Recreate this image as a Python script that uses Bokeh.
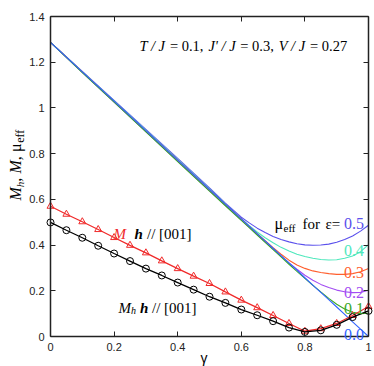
import numpy as np
from bokeh.plotting import figure
from bokeh.models import Range1d, FixedTicker, LinearAxis, Label, ColumnDataSource
from bokeh.embed import file_html
from bokeh.resources import INLINE

# ---------------- data ----------------
gamma_mu = [0, 0.1, 0.2, 0.3, 0.4, 0.5, 0.55, 0.6, 0.625, 0.65, 0.675, 0.7, 0.725,
            0.75, 0.775, 0.8, 0.825, 0.85, 0.875, 0.9, 0.925, 0.95, 0.975, 1.0]
mu_eps00 = [1.287, 1.158, 1.030, 0.901, 0.772, 0.644, 0.579, 0.515, 0.483, 0.450, 0.418, 0.386,
            0.354, 0.322, 0.290, 0.257, 0.225, 0.193, 0.161, 0.129, 0.097, 0.064, 0.032, 0.000]
mu_eps01 = [1.287, 1.155, 1.025, 0.895, 0.765, 0.636, 0.572, 0.508, 0.476, 0.444, 0.412, 0.380,
            0.348, 0.316, 0.285, 0.254, 0.224, 0.195, 0.167, 0.141, 0.120, 0.106, 0.100, 0.102]
mu_eps02 = [1.287, 1.156, 1.026, 0.896, 0.767, 0.638, 0.574, 0.510, 0.478, 0.446, 0.414, 0.383,
            0.352, 0.322, 0.294, 0.268, 0.246, 0.228, 0.214, 0.203, 0.196, 0.192, 0.193, 0.202]
mu_eps03 = [1.287, 1.158, 1.029, 0.900, 0.771, 0.642, 0.578, 0.514, 0.482, 0.450, 0.419, 0.389,
            0.360, 0.334, 0.313, 0.298, 0.287, 0.280, 0.275, 0.272, 0.272, 0.275, 0.283, 0.298]
mu_eps04 = [1.287, 1.159, 1.031, 0.903, 0.775, 0.646, 0.580, 0.515, 0.485, 0.457, 0.432, 0.410,
            0.390, 0.374, 0.360, 0.350, 0.342, 0.337, 0.335, 0.336, 0.342, 0.352, 0.371, 0.402]
mu_eps05 = [1.287, 1.160, 1.033, 0.906, 0.779, 0.650, 0.583, 0.522, 0.497, 0.474, 0.455, 0.438,
            0.424, 0.414, 0.406, 0.401, 0.399, 0.400, 0.404, 0.412, 0.424, 0.440, 0.461, 0.487]

gamma_m = [0, 0.05, 0.1, 0.15, 0.2, 0.25, 0.3, 0.35, 0.4, 0.45, 0.5,
           0.55, 0.6, 0.65, 0.7, 0.75, 0.8, 0.85, 0.9, 0.95, 1.0]
M_vals = [0.570, 0.535, 0.502, 0.468, 0.433, 0.399, 0.366, 0.331, 0.297, 0.264, 0.232,
          0.195, 0.159, 0.126, 0.092, 0.057, 0.023, 0.034, 0.057, 0.092, 0.131]
Mh_vals = [0.499, 0.465, 0.432, 0.397, 0.363, 0.330, 0.297, 0.267, 0.236, 0.205, 0.174,
           0.147, 0.118, 0.093, 0.067, 0.039, 0.020, 0.027, 0.051, 0.085, 0.112]

eps_labels = ["0.5", "0.4", "0.3", "0.2", "0.1", "0.0"]
eps_colors = ["#5a50ec", "#4ee8bc", "#ff5f2e", "#a24cf2", "#3aa82a", "#2f62ff"]

x_ticks = [0, 0.2, 0.4, 0.6, 0.8, 1.0]
x_tick_labels = ["0", "0.2", "0.4", "0.6", "0.8", "1"]
y_ticks = [0, 0.2, 0.4, 0.6, 0.8, 1.0, 1.2, 1.4]
y_tick_labels = ["0", "0.2", "0.4", "0.6", "0.8", "1", "1.2", "1.4"]

# ---------------- layout: the frame covers the whole canvas ----------------
W, H = 374, 366                 # canvas size (px)
X0, X1 = 50, 368                # canvas x of gamma = 0 and gamma = 1
Y0, Y1 = 336, 16                # canvas y of value = 0 and value = 1.4
sx = (X1 - X0) / 1.0
sy = (Y0 - Y1) / 1.4

def px(X):
    return (X - X0) / sx
def py(Y):
    return (Y0 - Y) / sy

p = figure(frame_width=W, frame_height=H,
           x_range=Range1d(px(0), px(W)), y_range=Range1d(py(H), py(0)),
           output_backend="svg", toolbar_location=None,
           x_axis_location=None, y_axis_location=None,
           min_border=0, min_border_left=0, min_border_right=0,
           min_border_top=0, min_border_bottom=0)
p.xgrid.visible = False
p.ygrid.visible = False
p.outline_line_color = None
p.background_fill_color = "white"
p.border_fill_color = "white"

AX_COL = "#222222"

def make_axis(ticks, labels, show, loc, bounds):
    ax = LinearAxis(fixed_location=loc, bounds=bounds)
    ax.ticker = FixedTicker(ticks=ticks)
    ax.major_label_overrides = {t: l for t, l in zip(ticks, labels)}
    ax.major_tick_in = 5
    ax.major_tick_out = 0
    ax.minor_tick_line_color = None
    ax.axis_line_color = AX_COL
    ax.axis_line_width = 1.5
    ax.major_tick_line_color = AX_COL
    ax.major_tick_line_width = 1
    if show:
        ax.major_label_text_font = "Liberation Sans"
        ax.major_label_text_font_size = "11px"
        ax.major_label_text_color = AX_COL
        ax.major_label_standoff = 6
    else:
        ax.major_label_text_color = None
    return ax

p.add_layout(make_axis(x_ticks, x_tick_labels, True, 0, (0, 1)), "below")
p.add_layout(make_axis(y_ticks, y_tick_labels, True, 0, (0, 1.4)), "left")
p.add_layout(make_axis(x_ticks, x_tick_labels, False, 1.4, (0, 1)), "above")
p.add_layout(make_axis(y_ticks, y_tick_labels, False, 1, (0, 1.4)), "right")

# mu_eff curves
mu_series = [mu_eps05, mu_eps04, mu_eps03, mu_eps02, mu_eps01, mu_eps00]
for vals, col in zip(mu_series, eps_colors):
    p.line(gamma_mu, vals, line_color=col, line_width=1.1)

# M and M_h
src = ColumnDataSource(dict(g=gamma_m, M=M_vals, Mh=Mh_vals))
p.line("g", "M", source=src, line_color="#f02a2a", line_width=1.3)
p.scatter("g", "M", source=src, marker="triangle", size=7, fill_color=None,
          line_color="#f02a2a", line_width=1)
p.line("g", "Mh", source=src, line_color="black", line_width=1.3)
p.scatter("g", "Mh", source=src, marker="circle", size=7, fill_color=None,
          line_color="black", line_width=1)

# ---------------- annotations ----------------
def lab(text, X, Y, size="15px", style="normal", color="black", font="Liberation Serif",
        angle=0, align="left", baseline="alphabetic"):
    p.add_layout(Label(x=px(X), y=py(Y), text=text, text_font=font, text_font_size=size,
                       text_font_style=style, text_color=color, angle=angle,
                       text_align=align, text_baseline=baseline))

# parameter line
TS = "14.5px"
lab("T / J", 139, 45, size=TS, style="italic")
lab("= 0.1,", 169.4, 45, size=TS)
lab("J' / J", 207.9, 45, size=TS, style="italic")
lab("= 0.3,", 239.8, 45, size=TS)
lab("V / J", 278.3, 45, size=TS, style="italic")
lab("= 0.27", 309.5, 45, size=TS)

# M  h // [001]
lab("M", 113, 233, style="italic", color="#f02a2a")
lab("h", 134, 233, style="bold italic")
lab("// [001]", 146.5, 233)

# M_h  h // [001]
lab("M", 118, 307, style="italic")
lab("h", 130.5, 310, size="10px", style="italic")
lab("h", 139.5, 307, style="bold italic")
lab("// [001]", 151.5, 307)

# mu_eff for eps=
lab("\u03bc", 274, 223, size="16px")
lab("eff", 283, 227, size="11px")
lab("for", 302, 223)
lab("\u03b5=", 325, 223)
eps_label_Y = [223, 250, 272, 292, 308, 334]
for t, col, Y in zip(eps_labels, eps_colors, eps_label_Y):
    lab(t, 343.5, Y, size="16px", color=col)

# y axis label (rotated, reading upwards)
A = np.pi / 2
lab("M", 15, 200, size="16px", style="italic", angle=A)
lab("h", 19, 186.7, size="11px", style="italic", angle=A)
lab(",", 15, 181.2, size="16px", angle=A)
lab("M", 15, 173, size="16px", style="italic", angle=A)
lab(",", 15, 159.7, size="16px", angle=A)
lab("\u03bc", 15, 151.5, size="16px", angle=A)
lab("eff", 19, 142.3, size="12px", angle=A)

# x axis label
lab("\u03b3", 203.5, 357, size="14px", font="Liberation Sans", align="center")

open("out.html", "w").write(file_html(p, INLINE))
